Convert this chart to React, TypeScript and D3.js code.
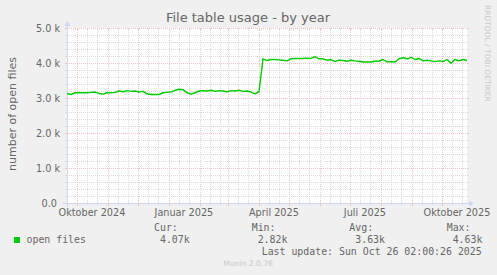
import React from "react";
import * as d3 from "d3";

const W = 497;
const H = 275;

// Series: open files, sampled every 4 days starting at graph start
const startDate = new Date(Date.UTC(2024, 8, 21, 2, 0, 26));
const endDate = new Date(Date.UTC(2025, 9, 26, 2, 0, 26));
const stepDays = 4;
const openFiles = [
  3130, 3100, 3150, 3150, 3150, 3150, 3160, 3170, 3130, 3110,
  3150, 3150, 3160, 3200, 3180, 3210, 3190, 3200, 3170, 3190,
  3120, 3100, 3100, 3100, 3150, 3160, 3170, 3220, 3250, 3240,
  3150, 3110, 3150, 3200, 3210, 3200, 3220, 3190, 3210, 3200,
  3180, 3210, 3200, 3220, 3190, 3200, 3170, 3120, 3180, 4120,
  4070, 4100, 4100, 4090, 4080, 4060, 4120, 4130, 4130, 4130,
  4140, 4130, 4180, 4120, 4120, 4080, 4100, 4040, 4080, 4070,
  4050, 4080, 4060, 4050, 4030, 4030, 4030, 4050, 4050, 4100,
  4030, 4040, 4030, 4120, 4150, 4120, 4160, 4100, 4130, 4060,
  4080, 4060, 4040, 4060, 4040, 4100, 3990, 4100, 4060, 4100,
  4070,
];

const yTicks = [0, 1000, 2000, 3000, 4000, 5000];
const yTickLabels = ["0.0 ", "1.0 k", "2.0 k", "3.0 k", "4.0 k", "5.0 k"];
const xLabelDates = [
  new Date(Date.UTC(2024, 9, 16)),
  new Date(Date.UTC(2025, 0, 16)),
  new Date(Date.UTC(2025, 3, 16)),
  new Date(Date.UTC(2025, 6, 16)),
  new Date(Date.UTC(2025, 9, 16)),
];
const xLabels = ["Oktober 2024", "Januar 2025", "April 2025", "Juli 2025", "Oktober 2025"];

const legendName = "open files";
const statLabels = ["Cur:", "Min:", "Avg:", "Max:"];
const statValues = ["4.07k", "2.82k", "3.63k", "4.63k"];
const lastUpdate = "Last update: Sun Oct 26 02:00:26 2025";
const title = "File table usage - by year";
const yLabel = "number of open files";
const version = "Munin 2.0.76";
const watermark = "RRDTOOL / TOBI OETIKER";

const X0 = 67, X1 = 467, Y0 = 203, Y1 = 28;

export default function App() {
  const x = d3.scaleUtc().domain([startDate, endDate]).range([X0, X1]);
  const y = d3.scaleLinear().domain([0, 5000]).range([Y0, Y1]);

  const pts = openFiles.map((v, i) => ({
    t: d3.utcDay.offset(startDate, i * stepDays),
    v,
  })).filter((p) => p.t <= endDate);

  const line = d3.line<{ t: Date; v: number }>()
    .x((d) => x(d.t))
    .y((d) => y(d.v));

  const majorMonths = d3.utcMonth.range(startDate, endDate);
  const minorDays: Date[] = [];
  d3.utcMonth.range(d3.utcMonth.floor(startDate), endDate).forEach((m) => {
    [10, 20].forEach((o) => {
      const dd = d3.utcDay.offset(m, o);
      if (dd > startDate && dd < endDate) minorDays.push(dd);
    });
  });
  const minorY = d3.range(200, 5000, 200).filter((v) => v % 1000 !== 0);
  const majorY = yTicks.filter((v) => v > 0);

  const gridCol = "#DCDCDC";
  const mgridCol = "#F2C2C2";
  const axisCol = "#CFD6F8";
  const fontCol = "#666666";
  const sans = "'DejaVu Sans', sans-serif";
  const mono = "'DejaVu Sans Mono', monospace";
  const px = (v: number) => Math.round(v) + 0.5;

  const statX = [154, 251.7, 349.3, 446.7];

  return (
    <div style={{ position: "fixed", left: 0, top: 0, width: W, height: H }}>
      <svg width={W} height={H} style={{ display: "block" }}>
        <rect x={0} y={0} width={W} height={H} fill="#F0F0F0" />
        <rect x={X0} y={Y1} width={X1 - X0} height={Y0 - Y1} fill="#FFFFFF" />

        {/* minor horizontal grid */}
        {minorY.map((v) => (
          <g key={"hy" + v} stroke={gridCol} strokeWidth={1}>
            <line x1={X0} x2={X1} y1={px(y(v))} y2={px(y(v))} strokeDasharray="1,1" />
            <line x1={X0 - 2} x2={X0} y1={px(y(v))} y2={px(y(v))} />
            <line x1={X1} x2={X1 + 2} y1={px(y(v))} y2={px(y(v))} />
          </g>
        ))}
        {/* minor vertical grid */}
        {minorDays.map((d, i) => (
          <g key={"vx" + i} stroke={gridCol} strokeWidth={1}>
            <line x1={px(x(d))} x2={px(x(d))} y1={Y1} y2={Y0} strokeDasharray="1,1" />
            <line x1={px(x(d))} x2={px(x(d))} y1={Y0} y2={Y0 + 2} />
            <line x1={px(x(d))} x2={px(x(d))} y1={Y1} y2={Y1 + 2} />
          </g>
        ))}
        {/* major horizontal grid */}
        {majorY.map((v) => (
          <g key={"my" + v} stroke={mgridCol} strokeWidth={1}>
            <line x1={X0} x2={X1} y1={px(y(v))} y2={px(y(v))} strokeDasharray="1,1" />
            <line x1={X0 - 2} x2={X0} y1={px(y(v))} y2={px(y(v))} />
            <line x1={X1} x2={X1 + 2} y1={px(y(v))} y2={px(y(v))} />
          </g>
        ))}
        {/* major vertical grid */}
        {majorMonths.map((d, i) => (
          <g key={"mx" + i} stroke={mgridCol} strokeWidth={1}>
            <line x1={px(x(d))} x2={px(x(d))} y1={Y1} y2={Y0} strokeDasharray="1,1" />
            <line x1={px(x(d))} x2={px(x(d))} y1={Y0} y2={Y0 + 3} />
            <line x1={px(x(d))} x2={px(x(d))} y1={Y1} y2={Y1 + 3} />
          </g>
        ))}

        {/* axes */}
        <line x1={X0 - 4} x2={X1 + 4} y1={Y0 + 0.5} y2={Y0 + 0.5} stroke={axisCol} strokeWidth={1} />
        <line x1={X0 + 0.5} x2={X0 + 0.5} y1={Y0 + 4} y2={Y1 - 4} stroke={axisCol} strokeWidth={1} />
        <path d={`M${X1 + 2},${Y0 - 3 + 0.5} L${X1 + 2},${Y0 + 3 + 0.5} L${X1 + 7},${Y0 + 0.5} Z`} fill={axisCol} />
        <path d={`M${X0 - 3 + 0.5},${Y1 - 2} L${X0 + 3 + 0.5},${Y1 - 2} L${X0 + 0.5},${Y1 - 7} Z`} fill={axisCol} />

        {/* data line */}
        <path d={line(pts) || ""} fill="none" stroke="#00CC00" strokeWidth={1.4} strokeLinejoin="round" />

        {/* y tick labels */}
        {yTicks.map((v, i) => (
          <text key={"yl" + v} x={60} y={y(v) + 3.5} textAnchor="end" fontFamily={sans} fontSize={9.7}
            fill={fontCol} style={{ whiteSpace: "pre" }}>{yTickLabels[i]}</text>
        ))}
        {/* x labels */}
        {xLabelDates.map((d, i) => (
          <text key={"xl" + i} x={x(d)} y={216} textAnchor="middle" fontFamily={sans} fontSize={9.7} fill={fontCol}>
            {xLabels[i]}
          </text>
        ))}

        {/* title */}
        <text x={248} y={22} textAnchor="middle" fontFamily={sans} fontSize={13} fill={fontCol}>{title}</text>
        {/* y label */}
        <text transform={`translate(16, 114) rotate(-90)`} textAnchor="middle" fontFamily={sans} fontSize={11} fill={fontCol}>{yLabel}</text>
        {/* watermark */}
        <text transform={`translate(485, 5) rotate(90)`} textAnchor="start" fontFamily={sans} fontSize={7.5} fill="#C8C8C8">{watermark}</text>

        {/* legend */}
        <rect x={14} y={237} width={6} height={6} fill="#00CC00" />
        <text x={26.5} y={243} fontFamily={mono} fontSize={9.9} fill={fontCol}>{legendName}</text>
        {statLabels.map((s, i) => (
          <g key={"st" + i}>
            <text x={statX[i]} y={231} fontFamily={mono} fontSize={9.9} fill={fontCol}>{s}</text>
            <text x={statX[i] + 5.96} y={243} fontFamily={mono} fontSize={9.9} fill={fontCol}>{statValues[i]}</text>
          </g>
        ))}
        <text x={261.7} y={255} fontFamily={mono} fontSize={9.9} fill={fontCol}>{lastUpdate}</text>
        <text x={248} y={266} textAnchor="middle" fontFamily={sans} fontSize={7.6} fill="#C8C8C8">{version}</text>
      </svg>
    </div>
  );
}
